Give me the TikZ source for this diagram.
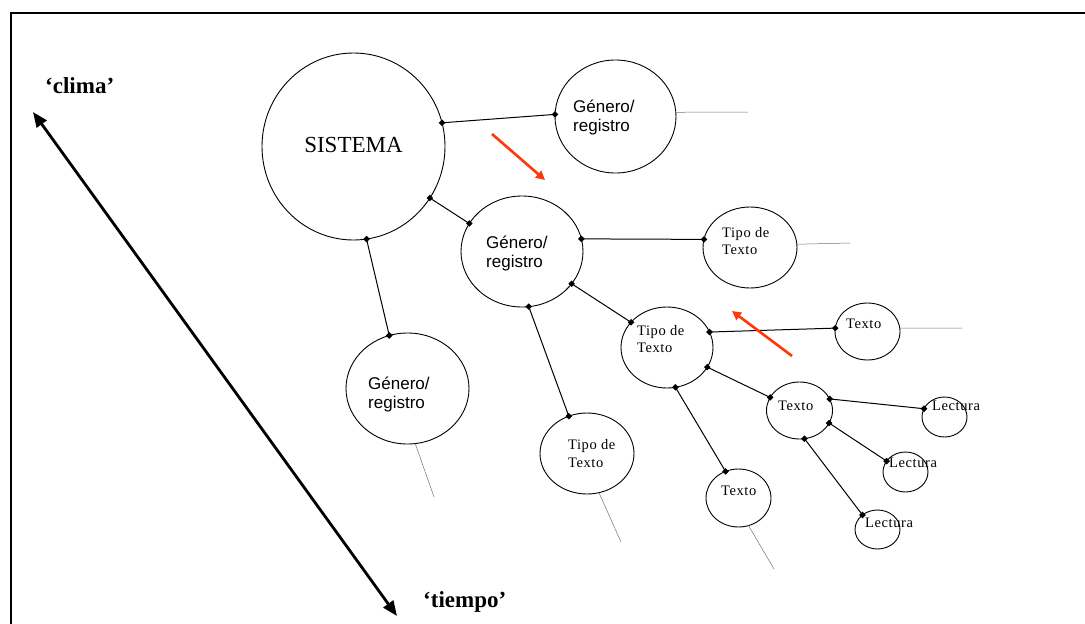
\documentclass[tikz,border=0pt]{standalone}
\usepackage{fontspec}
\setmainfont{Liberation Serif}
\newfontfamily\arialf{Liberation Sans}
\newfontfamily\serifsp[LetterSpace=4]{Liberation Serif}
\usetikzlibrary{shapes.geometric,arrows.meta}
\definecolor{redarrow}{RGB}{255,55,10}
\tikzset{
  bub/.style={ellipse, draw, line width=0.9pt, inner sep=0pt, outer sep=0pt},
  conn/.style={line width=1pt},
  tail/.style={line width=0.5pt, black!55},
  gentxt/.style={anchor=base west, inner sep=0pt, font=\arialf\fontsize{17}{19}\selectfont},
  tiptxt/.style={anchor=base west, inner sep=0pt, font=\serifsp\fontsize{14.5}{17}\selectfont},
  redarr/.style={draw=redarrow, line width=2.6pt, -{Triangle[length=9pt,width=9pt]}},
  bigarr/.style={line width=2.8pt, {Triangle[length=15pt,width=12pt]}-{Triangle[length=15pt,width=12pt]}},
  axtxt/.style={anchor=base west, inner sep=0pt, font=\bfseries\fontsize{23}{26}\selectfont}
}
\newcommand\dmd[1]{\fill[shift={(#1)}] (-3.3,0)--(0,-3.3)--(3.3,0)--(0,3.3)--cycle;}
\begin{document}
\begin{tikzpicture}[x=1pt,y=-1pt]
\useasboundingbox (0,0) rectangle (1085,624);
% frame
\draw[line width=2pt] (11,630) -- (11,13) -- (1090,13);

% bubbles
\node[bub, minimum width=183pt, minimum height=187pt] (sis) at (353.5,146.5) {};
\node[bub, minimum width=121pt, minimum height=113pt] (g1) at (615.5,116.5) {};
\node[bub, minimum width=122pt, minimum height=111pt] (g2) at (522,251.5) {};
\node[bub, minimum width=123pt, minimum height=111pt] (g3) at (407.5,388.5) {};
\node[bub, minimum width=94pt, minimum height=81pt] (t1) at (750,247.5) {};
\node[bub, minimum width=92pt, minimum height=81pt] (t2) at (667,347.5) {};
\node[bub, minimum width=94pt, minimum height=81pt] (t3) at (587,453.5) {};
\node[bub, minimum width=65pt, minimum height=57pt] (x1) at (867.5,331.5) {};
\node[bub, minimum width=66pt, minimum height=57pt] (x2) at (799.5,410.5) {};
\node[bub, minimum width=65pt, minimum height=58pt] (x3) at (738.5,498) {};
\node[bub, minimum width=45pt, minimum height=40pt] (l1) at (944.5,417) {};
\node[bub, minimum width=45pt, minimum height=40pt] (l2) at (905.5,472) {};
\node[bub, minimum width=45pt, minimum height=39pt] (l3) at (877.5,529.5) {};

% texts
\node[anchor=base, inner sep=0pt, font=\fontsize{23}{26}\selectfont] (sist) at (353.5,152) {SISTEMA};
\node[gentxt] (g1a) at (573,112) {Género/};
\node[gentxt] (g1b) at (573,131) {registro};
\node[gentxt] (g2a) at (486,248) {Género/};
\node[gentxt] (g2b) at (486,267) {registro};
\node[gentxt] (g3a) at (368,389) {Género/};
\node[gentxt] (g3b) at (368,408) {registro};
\node[tiptxt] (t1a) at (722,237) {Tipo de};
\node[tiptxt] (t1b) at (722,254) {Texto};
\node[tiptxt] (t2a) at (637,335) {Tipo de};
\node[tiptxt] (t2b) at (637,352) {Texto};
\node[tiptxt] (t3a) at (568,449) {Tipo de};
\node[tiptxt] (t3b) at (568,467) {Texto};
\node[tiptxt] (x1t) at (846,328) {Texto};
\node[tiptxt] (x2t) at (778,410) {Texto};
\node[tiptxt] (x3t) at (721,495) {Texto};
\node[tiptxt] (l1t) at (932,410) {Lectura};
\node[tiptxt] (l2t) at (889,467) {Lectura};
\node[tiptxt] (l3t) at (865,527) {Lectura};

% connectors
\draw[conn] (sis.15.6) -- (g1.178.6);
\draw[conn] (sis.-34) -- (g2.152.6);
\draw[conn] (sis.-82) -- (g3.109);
\draw[conn] (g2.12.7) -- (t1.170);
\draw[conn] (g2.-33) -- (t2.145.8);
\draw[conn] (g2.-83) -- (t3.116.9);
\draw[conn] (t2.20.3) -- (x1.174);
\draw[conn] (t2.-26.6) -- (x2.156.8);
\draw[conn] (t2.-78) -- (x3.116.6);
\draw[conn] (x2.21.3) -- (l1.158);
\draw[conn] (x2.-23) -- (l2.150.6);
\draw[conn] (x2.-80) -- (l3.136.8);
\foreach \p in {sis.15.6,g1.178.6,sis.-34,g2.152.6,sis.-82,g3.109,g2.12.7,t1.170,g2.-33,t2.145.8,g2.-83,t3.116.9,t2.20.3,x1.174,t2.-26.6,x2.156.8,t2.-78,x3.116.6,x2.21.3,l1.158,x2.-23,l2.150.6,x2.-80,l3.136.8}{\dmd{\p}}

% tails
\coordinate (g1e) at (748,112);
\coordinate (t1e) at (850,243);
\coordinate (x1e) at (962,328);
\coordinate (g3e) at (434,497);
\coordinate (t3e) at (621,542);
\coordinate (x3e) at (774,569);
\draw[tail] (g1.4) -- (g1e);
\draw[tail] (t1.4.3) -- (t1e);
\draw[tail] (x1.6) -- (x1e);
\draw[tail] (g3.-82) -- (g3e);
\draw[tail] (t3.-73.5) -- (t3e);
\draw[tail] (x3.-70) -- (x3e);

% red arrows
\coordinate (ra1) at (492,134);
\coordinate (ra2) at (545,180);
\coordinate (rb1) at (792,356);
\coordinate (rb2) at (732,311);
\draw[redarr] (ra1) -- (ra2);
\draw[redarr] (rb1) -- (rb2);

% big axis
\node[axtxt] (clima) at (45,93) {‘clima’};
\node[axtxt] (tiempo) at (423,607) {‘tiempo’};
\coordinate (ax1) at (33,112);
\coordinate (ax2) at (397,616);
\draw[bigarr] (ax1) -- (ax2);
\end{tikzpicture}
\end{document}
